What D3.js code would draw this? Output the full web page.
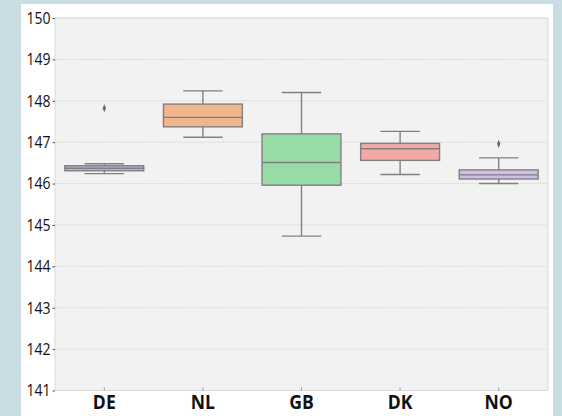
<!DOCTYPE html>
<html>
<head>
<meta charset="utf-8">
<script src="https://cdn.jsdelivr.net/npm/d3@7"></script>
<style>
  html, body { margin: 0; padding: 0; background: #c9dde3; }
  svg { display: block; }
  .tick text { font-family: "Open Sans", "Noto Sans", sans-serif; }
</style>
</head>
<body>
<div id="chart"></div>
<script>
// Box plot data, one entry per country
const countries = ["DE", "NL", "GB", "DK", "NO"];
const lowWhisker = [146.24, 147.12, 144.73, 146.22, 146.00];
const q1 = [146.31, 147.37, 145.96, 146.56, 146.11];
const medians = [146.37, 147.60, 146.51, 146.84, 146.21];
const q3 = [146.43, 147.92, 147.20, 146.97, 146.33];
const highWhisker = [146.48, 148.24, 148.20, 147.26, 146.62];
const outliers = [[147.82], [], [], [], [146.96]];
const colors = ["#a4bfdc", "#f2b68e", "#97dba7", "#f3aaa7", "#cfbdea"];
const yTicks = [141, 142, 143, 144, 145, 146, 147, 148, 149, 150];

const W = 562, H = 416;
const margin = { top: 18, right: 14, bottom: 25.5, left: 55 };
const width = W - margin.left - margin.right;
const height = H - margin.top - margin.bottom;

const rows = countries.map((c, i) => ({
    name: c, lo: lowWhisker[i], q1: q1[i], med: medians[i],
    q3: q3[i], hi: highWhisker[i], out: outliers[i], color: colors[i]
}));

const svg = d3.select("#chart").append("svg")
    .attr("width", W)
    .attr("height", H);

// white card
svg.append("rect")
    .attr("x", 21).attr("y", 4)
    .attr("width", 532).attr("height", H)
    .attr("fill", "#ffffff");

const g = svg.append("g")
    .attr("transform", `translate(${margin.left},${margin.top})`);

const x = d3.scaleBand().domain(countries).range([0, width]).padding(0);
const y = d3.scaleLinear().domain([141, 150]).range([height, 0]);

// plot background
g.append("rect")
    .attr("width", width).attr("height", height)
    .attr("fill", "#f2f2f2");

// grid lines
g.append("g")
    .selectAll("line")
    .data(yTicks)
    .enter().append("line")
    .attr("x1", 0).attr("x2", width)
    .attr("y1", d => y(d)).attr("y2", d => y(d))
    .attr("stroke", "#d6d6d6")
    .attr("stroke-width", 1)
    .attr("stroke-dasharray", "1.5,1");

// frame
g.append("rect")
    .attr("width", width).attr("height", height)
    .attr("fill", "none")
    .attr("stroke", "#d9d9d9")
    .attr("stroke-width", 1);

// axes
const yAxis = g.append("g")
    .call(d3.axisLeft(y).tickValues(yTicks).tickSize(2.5).tickPadding(0).tickFormat(d3.format("d")));
yAxis.select(".domain").remove();
yAxis.selectAll(".tick line").attr("stroke", "#555");
yAxis.selectAll(".tick text")
    .attr("x", 0)
    .attr("transform", "translate(-4.5,0) scale(0.85,1)")
    .attr("fill", "#111")
    .style("font-size", "16.5px");

const xAxis = g.append("g")
    .attr("transform", `translate(0,${height})`)
    .call(d3.axisBottom(x).tickSize(-3).tickPadding(0));
xAxis.select(".domain").remove();
xAxis.selectAll(".tick line").attr("stroke", "#999");
xAxis.selectAll(".tick text")
    .attr("y", 0)
    .attr("dy", 0)
    .attr("transform", "translate(0,18.8) scale(0.88,1)")
    .attr("fill", "#111")
    .style("font-size", "20px")
    .style("font-weight", "bold");

// boxes
const boxW = x.bandwidth() * 0.8;
const stroke = "#808080";
const box = g.selectAll(".box")
    .data(rows)
    .enter().append("g")
    .attr("class", "box")
    .attr("transform", d => `translate(${x(d.name) + x.bandwidth() / 2},0)`);

// whiskers
box.append("line")
    .attr("y1", d => y(d.q3)).attr("y2", d => y(d.hi))
    .attr("stroke", stroke).attr("stroke-width", 1.4);
box.append("line")
    .attr("y1", d => y(d.q1)).attr("y2", d => y(d.lo))
    .attr("stroke", stroke).attr("stroke-width", 1.4);
box.append("line")
    .attr("x1", -boxW / 4).attr("x2", boxW / 4)
    .attr("y1", d => y(d.hi)).attr("y2", d => y(d.hi))
    .attr("stroke", stroke).attr("stroke-width", 1.4);
box.append("line")
    .attr("x1", -boxW / 4).attr("x2", boxW / 4)
    .attr("y1", d => y(d.lo)).attr("y2", d => y(d.lo))
    .attr("stroke", stroke).attr("stroke-width", 1.4);

box.append("rect")
    .attr("x", -boxW / 2)
    .attr("width", boxW)
    .attr("y", d => y(d.q3))
    .attr("height", d => y(d.q1) - y(d.q3))
    .attr("fill", d => d.color)
    .attr("stroke", stroke)
    .attr("stroke-width", 1.4);

box.append("line")
    .attr("x1", -boxW / 2).attr("x2", boxW / 2)
    .attr("y1", d => y(d.med)).attr("y2", d => y(d.med))
    .attr("stroke", stroke).attr("stroke-width", 1.4);

// outliers as small diamonds
box.selectAll(".flier")
    .data(d => d.out)
    .enter().append("path")
    .attr("class", "flier")
    .attr("d", d3.symbol().type(d3.symbolDiamond).size(16))
    .attr("transform", d => `translate(0,${y(d)}) scale(0.75,1.1)`)
    .attr("fill", "#666");
</script>
</body>
</html>
